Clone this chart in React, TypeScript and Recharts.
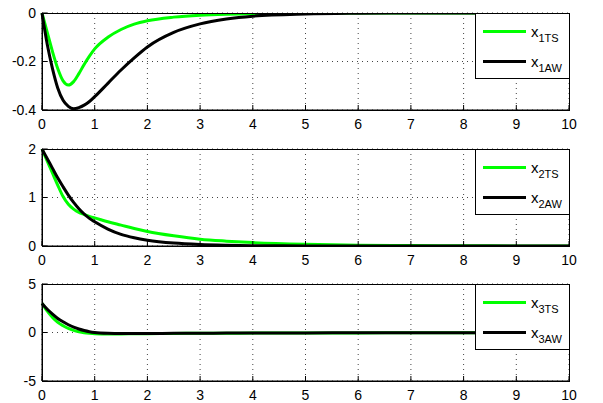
import { CartesianGrid, Line, LineChart, XAxis, YAxis } from 'recharts'

const time = [0, 0.1, 0.2, 0.3, 0.4, 0.5, 0.6, 0.7, 0.8, 0.9, 1, 1.25, 1.5, 1.75, 2, 2.5, 3, 3.5, 4, 5, 6, 7, 8, 9, 10]

const x1TS = [0, -0.08, -0.16, -0.23, -0.28, -0.297, -0.283, -0.25, -0.212, -0.178, -0.148, -0.1, -0.068, -0.046, -0.032, -0.017, -0.009, -0.005, -0.003, -0.001, 0, 0, 0, 0, 0]
const x1AW = [0, -0.13, -0.23, -0.31, -0.36, -0.385, -0.395, -0.39, -0.38, -0.365, -0.345, -0.29, -0.235, -0.185, -0.14, -0.08, -0.045, -0.025, -0.013, -0.004, -0.001, 0, 0, 0, 0]

const x2TS = [2, 1.75, 1.5, 1.25, 1.02, 0.86, 0.76, 0.69, 0.65, 0.61, 0.58, 0.5, 0.43, 0.36, 0.3, 0.21, 0.14, 0.1, 0.07, 0.035, 0.018, 0.009, 0.005, 0.002, 0.001]
const x2AW = [2, 1.8, 1.6, 1.4, 1.22, 1.05, 0.9, 0.77, 0.66, 0.57, 0.5, 0.35, 0.24, 0.17, 0.12, 0.06, 0.03, 0.015, 0.007, 0.002, 0, 0, 0, 0, 0]

const x3TS = [3, 2.2, 1.55, 1.05, 0.7, 0.42, 0.22, 0.08, -0.02, -0.08, -0.12, -0.15, -0.15, -0.13, -0.12, -0.1, -0.08, -0.07, -0.06, -0.05, -0.04, -0.03, -0.03, -0.02, -0.02]
const x3AW = [3, 2.4, 1.9, 1.45, 1.1, 0.8, 0.55, 0.36, 0.2, 0.08, 0, -0.08, -0.1, -0.1, -0.1, -0.08, -0.07, -0.06, -0.05, -0.04, -0.03, -0.03, -0.02, -0.02, -0.02]

const xTicks = [0, 1, 2, 3, 4, 5, 6, 7, 8, 9, 10]

const panels = [
  { ts: x1TS, aw: x1AW, domain: [-0.4, 0], ticks: [-0.4, -0.2, 0], sub: '1', top: 0 },
  { ts: x2TS, aw: x2AW, domain: [0, 2], ticks: [0, 1, 2], sub: '2', top: 136 },
  { ts: x3TS, aw: x3AW, domain: [-5, 5], ticks: [-5, 0, 5], sub: '3', top: 271 },
]

const FONT = '"Liberation Sans", Arial, sans-serif'
const GREEN = '#00ff00'
const tickStyle = { fontSize: 14, fill: '#000', fontFamily: FONT }
const noLabel = () => <g />

export default function App() {
  return (
    <div style={{ position: 'absolute', left: 0, top: 0, width: 603, height: 403, background: '#fff', fontFamily: FONT }}>
      {panels.map(p => (
        <Panel key={p.sub} {...p} />
      ))}
    </div>
  )
}

function Panel({ ts, aw, domain, ticks, sub, top }: {
  ts: number[]
  aw: number[]
  domain: number[]
  ticks: number[]
  sub: string
  top: number
}) {
  const data = time.map((t, i) => ({ t, ts: ts[i], aw: aw[i] }))
  return (
    <div style={{ position: 'absolute', left: 0, top, width: 603, height: 132 }}>
      <LineChart width={603} height={132} data={data} margin={{ top: 13, right: 34, bottom: 0, left: 0 }}>
        <CartesianGrid stroke="#444" strokeDasharray="1 4" />
        <XAxis
          dataKey="t"
          type="number"
          domain={[0, 10]}
          ticks={xTicks}
          interval={0}
          height={22}
          tickSize={-5}
          tickMargin={14}
          tickLine={{ stroke: '#000' }}
          axisLine={{ stroke: '#000' }}
          tick={tickStyle}
        />
        <XAxis
          xAxisId="top"
          orientation="top"
          dataKey="t"
          type="number"
          domain={[0, 10]}
          ticks={xTicks}
          interval={0}
          height={0}
          tickSize={-5}
          tickLine={{ stroke: '#000' }}
          axisLine={{ stroke: '#000' }}
          tick={noLabel}
        />
        <YAxis
          type="number"
          domain={domain}
          ticks={ticks}
          interval={0}
          width={42}
          tickSize={-5}
          tickMargin={11}
          tickLine={{ stroke: '#000' }}
          axisLine={{ stroke: '#000' }}
          allowDataOverflow
          tick={tickStyle}
        />
        <YAxis
          yAxisId="right"
          orientation="right"
          type="number"
          domain={domain}
          ticks={ticks}
          interval={0}
          width={0}
          tickSize={-5}
          tickLine={{ stroke: '#000' }}
          axisLine={{ stroke: '#000' }}
          tick={noLabel}
        />
        <Line dataKey="ts" type="monotone" stroke={GREEN} strokeWidth={3} dot={false} isAnimationActive={false} />
        <Line dataKey="aw" type="monotone" stroke="#000" strokeWidth={3} dot={false} isAnimationActive={false} />
      </LineChart>
      {/* plot frame */}
      <div style={{
        position: 'absolute',
        left: 42,
        top: 13,
        width: 528,
        height: 98,
        border: '1px solid #000',
        boxSizing: 'border-box',
        pointerEvents: 'none',
        zIndex: 2,
      }} />
      <LegendBox sub={sub} />
    </div>
  )
}

function LegendBox({ sub }: { sub: string }) {
  const item = (color: string, label: string) => (
    <div style={{ display: 'flex', alignItems: 'center', height: 30 }}>
      <div style={{ width: 43, height: 3, background: color, marginRight: 5 }} />
      <span style={{ fontSize: 15, color: '#000' }}>
        x<sub style={{ fontSize: 11, verticalAlign: 'baseline', position: 'relative', top: 5 }}>{label}</sub>
      </span>
    </div>
  )
  return (
    <div style={{
      position: 'absolute',
      left: 475,
      top: 13,
      width: 95,
      height: 66,
      background: '#fff',
      border: '1px solid #000',
      paddingLeft: 7,
      boxSizing: 'border-box',
      display: 'flex',
      flexDirection: 'column',
      justifyContent: 'center',
      zIndex: 3,
    }}>
      {item(GREEN, sub + 'TS')}
      {item('#000', sub + 'AW')}
    </div>
  )
}
